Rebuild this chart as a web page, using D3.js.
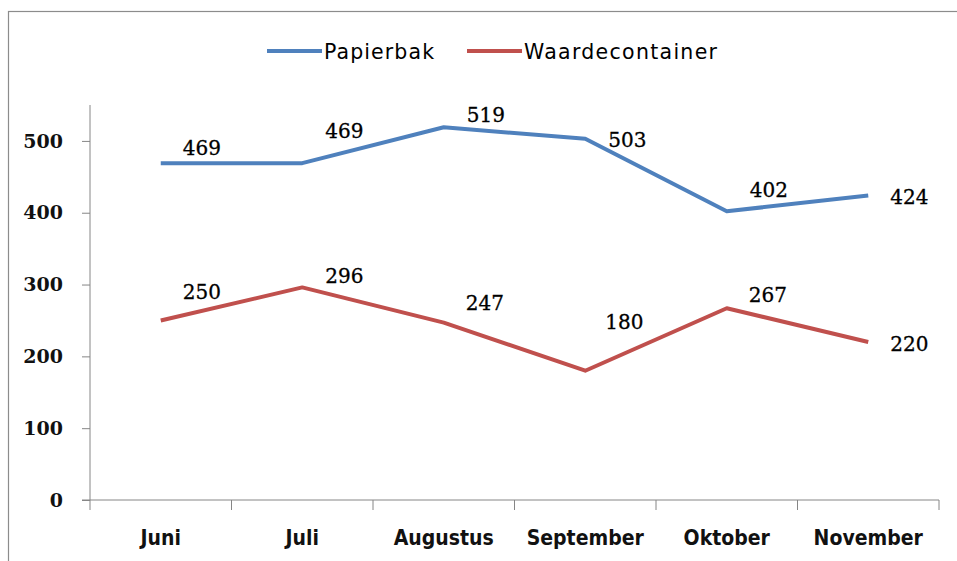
<!DOCTYPE html>
<html>
<head>
<meta charset="utf-8">
<script src="https://cdn.jsdelivr.net/npm/d3@7"></script>
<style>
  body { margin: 0; background: #fff; }
</style>
</head>
<body>
<div id="chart"></div>
<script>
// data
var months = ['Juni', 'Juli', 'Augustus', 'September', 'Oktober', 'November'];
var papierbak = [469, 469, 519, 503, 402, 424];
var waardecontainer = [250, 296, 247, 180, 267, 220];
var yTicks = [0, 100, 200, 300, 400, 500];
var seriesNames = ['Papierbak', 'Waardecontainer'];

// label nudges (px) so labels sit like in the original
var blueLabelDy = [-8, -25, -5, 8, -14, 9];
var redLabelDy = [-21, -4, -13, -42, -6, 9];
var redLabelDx = [22, 23, 22, 20, 22, 22];

const W = 957, H = 561;
const margin = {top: 105, right: 18, bottom: 61, left: 90};
const width = W - margin.left - margin.right;
const height = H - margin.top - margin.bottom;

var colors = {Papierbak: '#4F81BD', Waardecontainer: '#C0504D'};

var svg = d3.select('#chart').append('svg')
    .attr('width', W)
    .attr('height', H);

// chart frame
svg.append('rect')
    .attr('x', 8.5).attr('y', 11.5)
    .attr('width', W + 10).attr('height', H + 10)
    .attr('fill', 'none')
    .attr('stroke', '#8c8c8c')
    .attr('stroke-width', 1.2);

var g = svg.append('g')
    .attr('transform', `translate(${margin.left},${margin.top})`);

const xScale = d3.scaleBand()
    .domain(months)
    .range([0, width]);

const yScale = d3.scaleLinear()
    .domain([0, 550])
    .range([height, 0]);

// y axis
var yAxis = g.append('g')
    .call(d3.axisLeft(yScale).tickValues(yTicks).tickSize(8).tickPadding(19));
yAxis.select('.domain').attr('stroke', '#868686').attr('d', `M0,0V${height}`);
yAxis.selectAll('.tick line').attr('stroke', '#868686');
yAxis.selectAll('.tick text')
    .attr('font-family', 'DejaVu Serif')
    .attr('font-weight', 'bold')
    .style('font-size', '19px')
    .attr('fill', '#111');

// x axis, ticks between categories
var xAxisG = g.append('g')
    .attr('transform', 'translate(0,' + height + ')');
xAxisG.append('line')
    .attr('x1', -8).attr('x2', width)
    .attr('stroke', '#868686');
var bounds = months.map(function(m) { return xScale(m); }).concat([width]);
xAxisG.selectAll('.xtick')
    .data(bounds)
    .enter().append('line')
    .attr('class', 'xtick')
    .attr('x1', function(d) { return d; })
    .attr('x2', function(d) { return d; })
    .attr('y1', 0).attr('y2', 10)
    .attr('stroke', '#868686');
xAxisG.selectAll('.xlabel')
    .data(months)
    .enter().append('text')
    .attr('class', 'xlabel')
    .attr('x', function(d) { return xScale(d) + xScale.bandwidth() / 2; })
    .attr('y', 45)
    .attr('text-anchor', 'middle')
    .attr('font-family', 'DejaVu Sans Condensed, DejaVu Sans')
    .attr('font-weight', 'bold')
    .style('font-size', '21px')
    .attr('fill', '#111')
    .text(function(d) { return d; });

var line = d3.line()
    .x(function(d, i) { return xScale(months[i]) + xScale.bandwidth() / 2; })
    .y(function(d) { return yScale(d); });

function drawSeries(values, name, dxs, dys) {
    g.append('path')
        .datum(values)
        .attr('fill', 'none')
        .attr('stroke', colors[name])
        .attr('stroke-width', 4)
        .attr('stroke-linejoin', 'round')
        .attr('d', line);

    g.selectAll('.lbl-' + name)
        .data(values)
        .enter().append('text')
        .attr('class', 'lbl-' + name)
        .attr('x', function(d, i) { return xScale(months[i]) + xScale.bandwidth() / 2 + dxs[i]; })
        .attr('y', function(d, i) { return yScale(d) + dys[i]; })
        .attr('font-family', 'DejaVu Serif')
        .style('font-size', '20px')
        .attr('fill', '#000')
        .attr('stroke', '#000')
        .attr('stroke-width', 0.3)
        .text(function(d) { return d; });
}

drawSeries(papierbak, 'Papierbak', [22, 23, 23, 23, 23, 22], blueLabelDy);
drawSeries(waardecontainer, 'Waardecontainer', redLabelDx, redLabelDy);

// legend
var legendX = [267, 467];
var legendTextW = [110, 193];
var legend = svg.selectAll('.legend')
    .data(seriesNames)
    .enter().append('g')
    .attr('class', 'legend')
    .attr('transform', function(d, i) { return `translate(${legendX[i]},51)`; });
legend.append('line')
    .attr('x1', 0).attr('x2', 55)
    .attr('stroke', function(d) { return colors[d]; })
    .attr('stroke-width', 4);
legend.append('text')
    .attr('x', 57)
    .attr('y', 7.5)
    .attr('font-family', 'DejaVu Sans')
    .style('font-size', '20.5px')
    .attr('textLength', function(d, i) { return legendTextW[i]; })
    .attr('lengthAdjust', 'spacing')
    .attr('fill', '#000')
    .text(function(d) { return d; });
</script>
</body>
</html>
